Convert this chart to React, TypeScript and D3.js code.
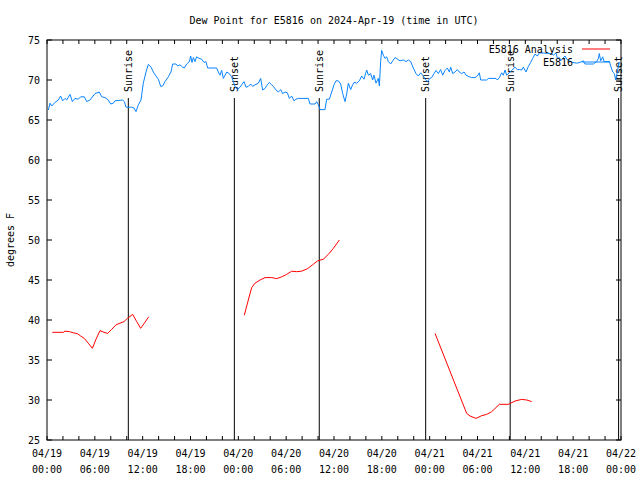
import React from 'react';
import * as d3 from 'd3';

const START = Date.UTC(2024, 3, 19);
const HOUR = 3600e3;
const toDate = (h: number) => new Date(START + h * HOUR);

const titleText = 'Dew Point for E5816 on 2024-Apr-19 (time in UTC)';
const yTitle = 'degrees F';
const yTicks = [25, 30, 35, 40, 45, 50, 55, 60, 65, 70, 75];
const xLabelHours = [0, 6, 12, 18, 24, 30, 36, 42, 48, 54, 60, 66, 72];
const sunriseHours = [10.2, 34.15, 58.1];
const sunsetHours = [23.5, 47.5, 71.7];

// Observed station dew point (hours since 04/19 00:00 UTC, degF)
const obsHours = [
  0.17, 0.38, 0.59, 1.0, 1.42, 1.71, 1.97, 2.26, 2.47, 2.89, 3.18, 3.51, 3.93, 4.22, 4.68, 4.98, 5.39, 6.02, 6.56, 6.86,
  7.28, 7.69, 7.99, 8.32, 8.53, 9.49, 9.7, 9.91, 10.62, 10.91, 11.16, 11.46, 11.79, 12.08, 12.42, 12.71, 13.05, 13.34,
  13.67, 13.97, 14.26, 14.51, 14.8, 15.22, 15.55, 15.76, 16.18, 16.39, 16.68, 17.02, 17.23, 17.52, 17.86, 18.02, 18.19,
  18.36, 18.56, 18.77, 19.07, 19.4, 19.69, 19.94, 20.15, 21.28, 21.49, 21.7, 21.91, 22.12, 22.33, 22.54, 22.87, 23.17,
  23.38, 23.58, 23.88, 24.21,
  24.42, 24.71, 24.96, 25.25, 25.55, 25.8, 26.09, 26.51, 26.8, 27.05, 27.35, 27.64, 27.89, 28.18, 28.39, 28.73, 29.02,
  29.31, 29.56, 29.85, 30.15, 30.4, 30.69, 30.98, 31.23, 31.53, 32.78, 32.99, 33.62, 33.83, 34.04, 34.24, 34.87, 35.08,
  35.42, 35.71, 36.0, 36.25, 36.54, 36.84, 37.09, 37.38, 37.59, 37.8, 38.09, 38.34, 38.51, 38.84, 39.18, 39.47, 39.76,
  40.1, 40.31, 40.6, 40.85, 41.02, 41.27, 41.56, 41.69, 41.85, 41.98, 42.19, 42.4, 42.61, 42.82, 43.11, 43.36, 43.65,
  43.95, 44.28, 44.7, 45.03, 45.32, 45.62, 45.95, 46.29, 46.58, 46.87, 47.12, 47.42, 47.71, 48.04,
  48.25, 48.54, 48.8, 49.09, 49.38, 49.63, 49.92, 50.22, 50.47, 50.64, 50.89, 51.18, 51.47, 51.72, 52.02, 52.31, 52.56,
  52.98, 53.27, 53.69, 53.98, 54.23, 54.4, 55.15, 55.36, 56.32, 56.49, 56.74, 57.03, 57.24, 57.45, 57.66, 57.99, 58.29,
  58.71, 59.0, 59.25, 59.54, 59.75, 60.09, 60.38, 60.67, 60.92, 61.21, 61.51, 61.76, 63.31, 63.51, 63.85, 64.02, 64.27,
  64.43, 64.68, 64.98, 65.19, 65.52, 65.94, 66.44, 66.86, 67.28, 67.49, 68.53, 68.95, 69.16, 69.28, 69.45, 69.7, 69.87,
  70.54, 70.71, 70.96, 71.17, 71.33, 71.54, 71.75, 71.87,
];
const obsDewF = [
  66.25, 67.1, 66.75, 67.2, 67.5, 68.0, 67.4, 67.7, 67.5, 68.2, 67.3, 67.7, 67.6, 67.9, 67.9, 67.3, 67.5, 68.3, 68.5, 67.9,
  67.8, 67.5, 67.0, 67.1, 67.4, 67.5, 67.3, 66.6, 66.6, 66.5, 66.05, 66.9, 67.5, 69.6, 71.0, 71.95, 71.6, 71.0,
  70.5, 70.1, 69.2, 69.25, 69.8, 70.4, 71.0, 72.0, 72.0, 71.75, 71.9, 71.6, 71.5, 72.0, 72.3, 73.0, 72.2,
  72.8, 72.3, 72.9, 72.7, 72.6, 72.2, 72.3, 71.5, 71.5, 71.0, 70.6, 71.2, 70.2, 70.6, 71.0, 70.8, 70.4,
  69.8, 69.2, 68.8, 69.1,
  69.4, 69.8, 69.1, 69.2, 69.5, 69.2, 69.4, 69.6, 70.2, 68.75, 68.95, 69.4, 69.7, 69.4, 69.2, 68.75, 68.5,
  68.8, 68.3, 68.5, 68.4, 67.7, 68.0, 67.4, 67.6, 67.7, 67.7, 67.0, 67.0, 67.3, 66.9, 66.3, 66.3, 67.6,
  67.6, 68.5, 69.4, 69.9, 69.9, 69.5, 68.3, 67.3, 68.25, 69.6, 68.8, 69.4, 69.7, 69.6, 69.9, 70.5, 70.1,
  71.25, 70.6, 70.8, 70.0, 70.6, 69.6, 70.2, 69.25, 72.3, 73.7, 73.1, 72.7, 72.9, 72.3, 72.0, 72.4, 72.8,
  72.6, 72.4, 72.5, 72.3, 72.5, 72.3, 71.5, 70.8, 70.5, 70.9, 70.6, 70.1, 69.8, 70.2,
  70.3, 70.8, 71.2, 70.8, 71.3, 70.6, 71.2, 71.5, 71.0, 71.6, 70.8, 71.0, 71.3, 71.0, 70.8, 71.0, 70.6,
  70.4, 70.3, 70.3, 70.5, 70.9, 70.0, 70.0, 70.2, 70.2, 70.0, 70.3, 70.9, 70.6, 71.25, 70.6, 70.9, 71.2,
  71.6, 71.3, 71.3, 71.25, 71.6, 71.0, 71.7, 72.2, 72.7, 73.25, 73.0, 73.4, 73.3, 73.1, 73.4, 72.7, 72.8,
  72.4, 72.7, 73.0, 72.6, 72.4, 72.2, 72.1, 72.2, 72.4, 72.0, 72.0, 72.3, 72.7, 73.3, 72.4, 72.9, 72.3,
  72.3, 71.75, 71.0, 70.8, 70.0, 71.0, 72.2, 72.1,
];

// Analysis dew point, three separate runs (null = gap)
const anaHours = [
  0.67, 2.05, 2.26, 2.8, 3.3, 3.8, 4.22, 4.68, 5.18, 5.69, 6.15, 6.65, 7.15, 7.61, 8.11, 8.66, 9.16, 9.66, 10.08, 10.75,
  11.25, 11.75, 12.21, 12.75, 13.5,
  24.75, 25.25, 25.67, 26.09, 26.72, 27.35, 28.18, 28.81, 29.44, 30.06, 30.69, 31.32, 31.94, 32.65, 33.32, 33.95, 34.66,
  35.29, 35.92, 36.67, 37.5,
  48.67, 52.64, 53.06, 53.81, 54.52, 55.15, 55.78, 56.74, 57.87, 58.71, 59.54, 60.17, 60.8,
];
const anaDewF: (number | null)[] = [
  38.46, 38.46, 38.6, 38.55, 38.4, 38.3, 38.0, 37.7, 37.1, 36.46, 37.6, 38.67, 38.46, 38.33, 38.83, 39.4, 39.6, 39.8, 40.2, 40.7,
  39.8, 38.96, 39.6, 40.4, null,
  40.6, 42.5, 44.04, 44.6, 45.0, 45.3, 45.3, 45.17, 45.4, 45.7, 46.1, 46.04, 46.1, 46.4, 46.9, 47.4, 47.6,
  48.2, 48.96, 50.0, null,
  38.33, 28.33, 28.0, 27.7, 28.04, 28.2, 28.54, 29.46, 29.46, 29.875, 30.08, 30.0, 29.8,
];

const FONT = '"DejaVu Sans Mono", monospace';
const BLUE = '#0a84ff';
const RED = '#ff0000';

export default function App() {
  const W = 640, H = 480;
  const L = 47, R = 621, T = 40, B = 440;
  const x = d3.scaleUtc().domain([toDate(0), toDate(72)]).range([L, R]);
  const y = d3.scaleLinear().domain([25, 75]).range([B, T]);

  const obs: [number, number][] = obsHours.map((h, i) => [h, obsDewF[i]]);
  const ana: [number, number | null][] = anaHours.map((h, i) => [h, anaDewF[i]]);

  const obsLine = d3.line<[number, number]>()
    .x(d => x(toDate(d[0])))
    .y(d => y(d[1]));
  const anaLine = d3.line<[number, number | null]>()
    .defined(d => d[1] !== null)
    .x(d => x(toDate(d[0])))
    .y(d => y(d[1] as number));

  const minorTicks = x.ticks(d3.utcHour.every(2) as any);
  const fmtDate = d3.utcFormat('%m/%d');
  const fmtTime = d3.utcFormat('%H:%M');

  const events = [
    ...sunriseHours.map(h => ({ h, label: 'Sunrise' })),
    ...sunsetHours.map(h => ({ h, label: 'Sunset' })),
  ];

  return (
    <svg width={W} height={H} style={{ position: 'absolute', left: 0, top: 0, background: '#fff' }}
      fontFamily={FONT} fontSize={10}>
      <rect x={0} y={0} width={W} height={H} fill="#fff" />
      <text x={(L + R) / 2} y={20} textAnchor="middle" dominantBaseline="central">{titleText}</text>

      {/* y ticks & labels */}
      {yTicks.map(v => (
        <g key={'y' + v}>
          <line x1={L} x2={L + 5} y1={y(v)} y2={y(v)} stroke="#000" />
          <line x1={R - 5} x2={R} y1={y(v)} y2={y(v)} stroke="#000" />
          <text x={40} y={y(v)} textAnchor="end" dominantBaseline="central">{v}</text>
        </g>
      ))}
      {/* x ticks */}
      {minorTicks.map((t, i) => (
        <g key={'x' + i}>
          <line x1={x(t)} x2={x(t)} y1={B} y2={B - 4} stroke="#000" />
          <line x1={x(t)} x2={x(t)} y1={T} y2={T + 4} stroke="#000" />
        </g>
      ))}
      {xLabelHours.map(h => (
        <g key={'xl' + h}>
          <text x={x(toDate(h))} y={453} textAnchor="middle" dominantBaseline="central">{fmtDate(toDate(h))}</text>
          <text x={x(toDate(h))} y={469} textAnchor="middle" dominantBaseline="central">{fmtTime(toDate(h))}</text>
        </g>
      ))}
      <text transform={`translate(10,${(T + B) / 2}) rotate(-90)`} textAnchor="middle" dominantBaseline="central">{yTitle}</text>

      {/* sunrise / sunset markers */}
      {events.map((e, i) => {
        const ex = x(toDate(e.h));
        return (
          <g key={'ev' + i}>
            <line x1={ex} x2={ex} y1={98} y2={B} stroke="#000" />
            <text transform={`translate(${ex},92) rotate(-90)`} textAnchor="start" dominantBaseline="central">{e.label}</text>
          </g>
        );
      })}

      {/* series */}
      <path d={obsLine(obs) || ''} fill="none" stroke={BLUE} strokeWidth={1} />
      <path d={anaLine(ana) || ''} fill="none" stroke={RED} strokeWidth={1} />

      {/* legend */}
      <text x={573} y={49} textAnchor="end" dominantBaseline="central">E5816 Analysis</text>
      <line x1={582} x2={610} y1={49} y2={49} stroke={RED} />
      <text x={573} y={62} textAnchor="end" dominantBaseline="central">E5816</text>
      <line x1={582} x2={610} y1={62} y2={62} stroke={BLUE} />

      {/* frame */}
      <rect x={L} y={T} width={R - L} height={B - T} fill="none" stroke="#000" />
    </svg>
  );
}
